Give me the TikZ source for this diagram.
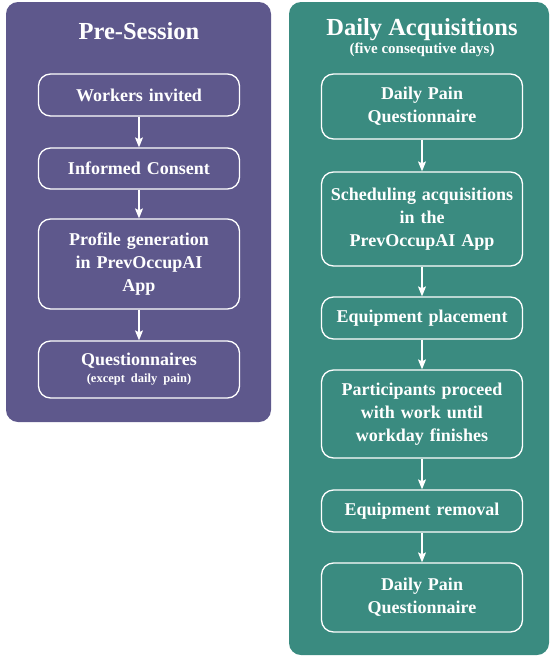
\documentclass[tikz,border=0pt]{standalone}
\usepackage{fontspec}
\setmainfont{Liberation Serif}
\usetikzlibrary{arrows.meta}
\definecolor{panelpurple}{RGB}{94,88,140}
\definecolor{panelteal}{RGB}{58,139,128}
\begin{document}
\begin{tikzpicture}[x=1pt,y=-1pt,
  panel/.style={rounded corners=12pt},
  stepbox/.style={draw=white,line width=1.3pt,rounded corners=12pt,
    minimum width=201pt,text width=197pt,align=center,text=white,
    font=\bfseries\fontsize{18}{23}\selectfont,inner sep=0pt},
  title/.style={text=white,font=\bfseries\fontsize{24.5}{26}\selectfont},
  flow/.style={draw=white,line width=1.1pt,-{Stealth[length=10pt,width=8pt,inset=2pt]}}]
\useasboundingbox (0,0) rectangle (549,656);
% panels
\fill[panelpurple,panel] (6,2) rectangle (271,422);
\fill[panelteal,panel] (289,2) rectangle (549,655);
% titles
\node[title] (tL) at (139,31) {Pre-Session};
\node[title] (tR) at (422,30) {Daily Acquisitions};
\node[text=white,font=\bfseries\fontsize{15}{17}\selectfont] (tRs) at (422,50) {(five consequtive days)};
% pre-session steps
\node[stepbox,minimum height=42pt] (a1) at (139,95) {Workers invited};
\node[stepbox,minimum height=41pt] (a2) at (139,168.5) {Informed Consent};
\node[stepbox,minimum height=90pt] (a3) at (139,264) {Profile generation\\in PrevOccupAI\\App};
\node[stepbox,minimum height=57pt] (a4) at (139,369.5) {Questionnaires\\[-6pt]{\fontsize{12.5}{14}\selectfont(except daily pain)}};
% daily steps
\node[stepbox,minimum height=65pt] (b1) at (422,106.5) {Daily Pain\\Questionnaire};
\node[stepbox,minimum height=94pt] (b2) at (422,219) {Scheduling acquisitions\\in the\\PrevOccupAI App};
\node[stepbox,minimum height=42pt] (b3) at (422,318) {Equipment placement};
\node[stepbox,minimum height=88pt] (b4) at (422,414) {Participants proceed\\with work until\\workday finishes};
\node[stepbox,minimum height=42pt] (b5) at (422,511) {Equipment removal};
\node[stepbox,minimum height=69pt] (b6) at (422,597.5) {Daily Pain\\Questionnaire};
% connectors
\draw[flow] (a1) -- (a2);
\draw[flow] (a2) -- (a3);
\draw[flow] (a3) -- (a4);
\draw[flow] (b1) -- (b2);
\draw[flow] (b2) -- (b3);
\draw[flow] (b3) -- (b4);
\draw[flow] (b4) -- (b5);
\draw[flow] (b5) -- (b6);
\end{tikzpicture}
\end{document}
